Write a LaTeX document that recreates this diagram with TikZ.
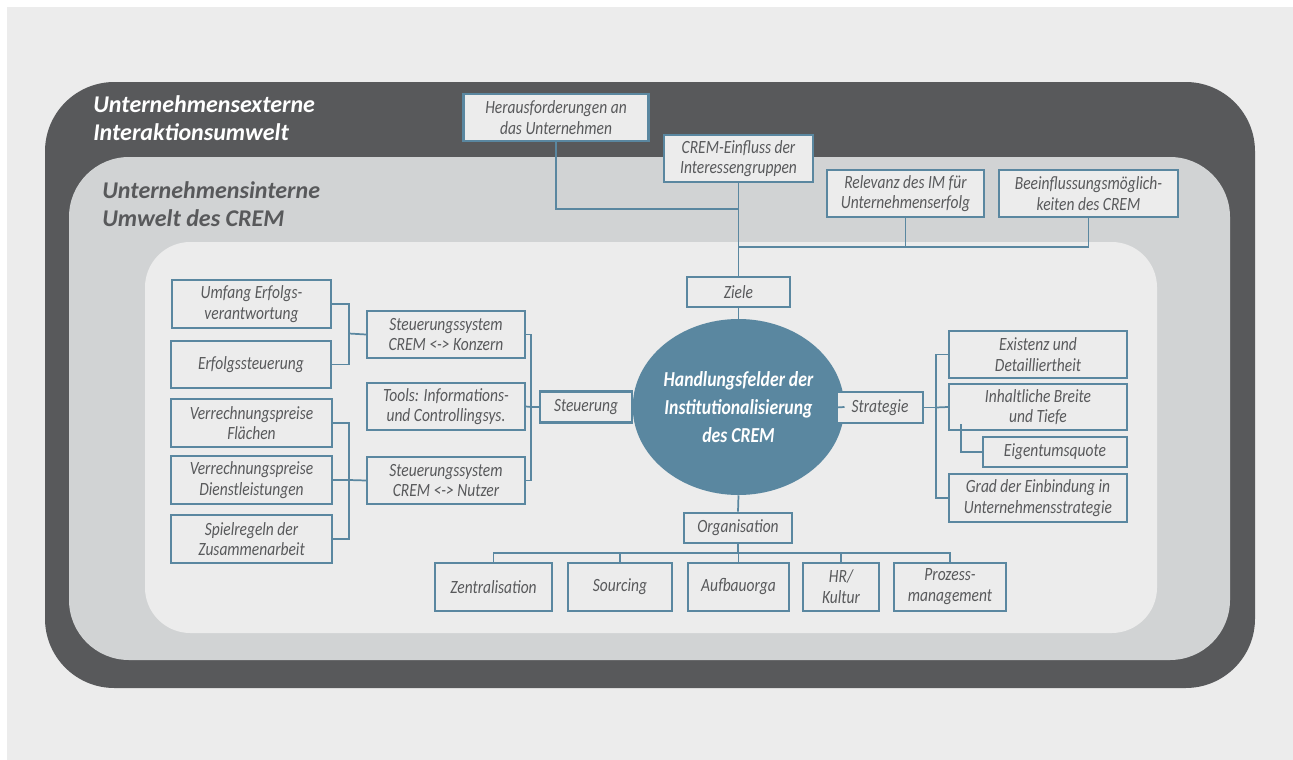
\documentclass[tikz,border=0pt]{standalone}
\usepackage{fontspec}
\setmainfont{Carlito}
\newfontfamily\boxfont{Carlito}[FakeStretch=0.83]
\usetikzlibrary{shapes.geometric}
\definecolor{outerenv}{HTML}{58595B}
\definecolor{innerenv}{HTML}{D1D3D4}
\definecolor{corearea}{HTML}{ECECEC}
\definecolor{cremblue}{HTML}{5A87A0}
\definecolor{boxtext}{HTML}{58595B}
\tikzset{
  field/.style={draw=cremblue, line width=1.6pt, fill=corearea, text=boxtext,
    font=\boxfont\itshape\fontsize{14}{15.5}\selectfont, align=center, inner sep=0pt},
  link/.style={draw=cremblue, line width=1.3pt},
  envtitle/.style={anchor=north west, inner sep=0.75pt, align=left,
    font=\bfseries\itshape\fontsize{18}{21}\selectfont},
}
\begin{document}
\begin{tikzpicture}[x=0.75pt,y=0.75pt,yscale=-1,xscale=1]
\useasboundingbox (0,0) rectangle (1293,760);
%Background
\fill[corearea] (7,7) rectangle (1293,760);
%Shape: Rounded Rect
\fill[outerenv, rounded corners=52pt] (45,82) rectangle (1255,688);
%Shape: Rounded Rect
\fill[innerenv, rounded corners=45pt] (69,157) rectangle (1230,660);
%Shape: Rounded Rect
\fill[corearea, rounded corners=34pt] (145,242) rectangle (1157,633);

% Text Node
\node[envtitle, text=white] (extern) at (92,94) {Unternehmensexterne\\Interaktionsumwelt};
% Text Node
\node[envtitle, text=outerenv] (intern) at (101,180) {Unternehmensinterne\\Umwelt des CREM};

%Core
\node[ellipse, fill=cremblue, inner sep=0pt, minimum width=138.75pt, minimum height=132pt,
  text=white, align=center, font=\boxfont\bfseries\itshape\fontsize{16}{21}\selectfont]
  (core) at (738.5,407) {Handlungsfelder der\\Institutionalisierung\\des CREM};

%Ziele
\node[field, minimum width=138.75pt, minimum height=35.25pt] (hera) at (556,117.5) {Herausforderungen an\\das Unternehmen};
\node[field, minimum width=111.75pt, minimum height=35.25pt] (einfl) at (738.5,158.5) {CREM-Einfluss der\\Interessengruppen};
\node[field, minimum width=117.75pt, minimum height=35.25pt] (relev) at (905.5,193.5) {Relevanz des IM für\\Unternehmenserfolg};
\node[field, minimum width=134.25pt, minimum height=35.25pt] (beein) at (1088.5,193.5) {Beeinflussungsmöglich-\\keiten des CREM};
\node[field, minimum width=77.25pt, minimum height=22.5pt] (ziele) at (738.5,292) {Ziele};

%Steuerung
\node[field, minimum width=69pt, minimum height=23.25pt] (steu) at (586,407) {Steuerung};
\node[field, minimum width=118.5pt, minimum height=35.25pt] (konz) at (446,334.5) {Steuerungssystem\\CREM <-> Konzern};
\node[field, minimum width=118.5pt, minimum height=35.25pt] (tools) at (446,406.5) {Tools: Informations-\\und Controllingsys.};
\node[field, minimum width=118.5pt, minimum height=35.25pt] (nutzer) at (446,480.5) {Steuerungssystem\\CREM <-> Nutzer};
\node[field, minimum width=119.25pt, minimum height=36pt] (umfang) at (251.5,304) {Umfang Erfolgs-\\verantwortung};
\node[field, minimum width=120pt, minimum height=35.25pt] (erfolg) at (251,364.5) {Erfolgssteuerung};
\node[field, minimum width=120.75pt, minimum height=36pt] (flaech) at (251.5,423) {Verrechnungspreise\\Flächen};
\node[field, minimum width=120.75pt, minimum height=36pt] (dienst) at (251.5,480) {Verrechnungspreise\\Dienstleistungen};
\node[field, minimum width=120.75pt, minimum height=36pt] (spiel) at (251.5,539) {Spielregeln der\\Zusammenarbeit};

%Strategie
\node[field, minimum width=64.5pt, minimum height=23.25pt] (strat) at (880,407.5) {Strategie};
\node[field, minimum width=133.5pt, minimum height=35.25pt] (exist) at (1038,354.5) {Existenz und\\Detailliertheit};
\node[field, minimum width=133.5pt, minimum height=34.5pt] (inhalt) at (1038,407) {Inhaltliche Breite\\und Tiefe};
\node[field, minimum width=108pt, minimum height=22.5pt] (eigen) at (1055,452) {Eigentumsquote};
\node[field, minimum width=133.5pt, minimum height=36pt] (grad) at (1038,498) {Grad der Einbindung in\\Unternehmensstrategie};

%Organisation
\node[field, minimum width=81pt, minimum height=23pt] (orga) at (738,528) {Organisation};
\node[field, minimum width=87.75pt, minimum height=36pt] (zentral) at (493.5,586.7) {Zentralisation};
\node[field, minimum width=78pt, minimum height=36pt] (sourc) at (620,586.7) {Sourcing};
\node[field, minimum width=75.75pt, minimum height=36pt] (aufbau) at (738.5,586.7) {Aufbauorga};
\node[field, minimum width=57pt, minimum height=36pt] (hr) at (841,586.7) {HR/\\Kultur};
\node[field, minimum width=84pt, minimum height=36pt] (proz) at (950,586.7) {Prozess-\\management};

%Straight Lines
\coordinate (hjoin) at (738.5,209);
\coordinate (rjoin) at (738.5,247);
\draw[link] (hera.south) |- (hjoin);
\draw[link] (einfl.south) -- (ziele.north);
\draw[link] (relev.south) |- (rjoin);
\draw[link] (beein.south) |- (rjoin);
\draw[link] (ziele.south) -- (core.north);
\draw[link] (core.west) -- (steu.east);
\draw[link] (core.east) -- (strat.west);
\draw[link] (core.south) -- (orga.north);

%Straight Lines
\coordinate (sbus) at (531,407);
\draw[link] (steu.west) -- (sbus);
\draw[link] (konz.east) -| (sbus);
\draw[link] (tools.east) -- (sbus);
\draw[link] (nutzer.east) -| (sbus);
\coordinate (kbus) at (349,333.5);
\draw[link] (umfang.east) -| (kbus);
\draw[link] (erfolg.east) -| (kbus);
\draw[link] (kbus) -- (konz.west);
\coordinate (nbus) at (349,480);
\draw[link] (flaech.east) -| (nbus);
\draw[link] (dienst.east) -- (nbus);
\draw[link] (spiel.east) -| (nbus);
\draw[link] (nbus) -- (nutzer.west);

%Straight Lines
\coordinate (gbus) at (936,407.5);
\draw[link] (strat.east) -- (gbus);
\draw[link] (exist.west) -| (gbus);
\draw[link] (inhalt.west) -- (gbus);
\draw[link] (grad.west) -| (gbus);
\coordinate (ejoin) at (961,424.25);
\draw[link] (ejoin) |- (eigen.west);

%Straight Lines
\coordinate (ojoin) at (738,552.7);
\draw[link] (orga.south) -- (ojoin);
\foreach \leaf in {zentral,sourc,aufbau,hr,proz}
  \draw[link] (\leaf.north) |- (ojoin);
\end{tikzpicture}
\end{document}
